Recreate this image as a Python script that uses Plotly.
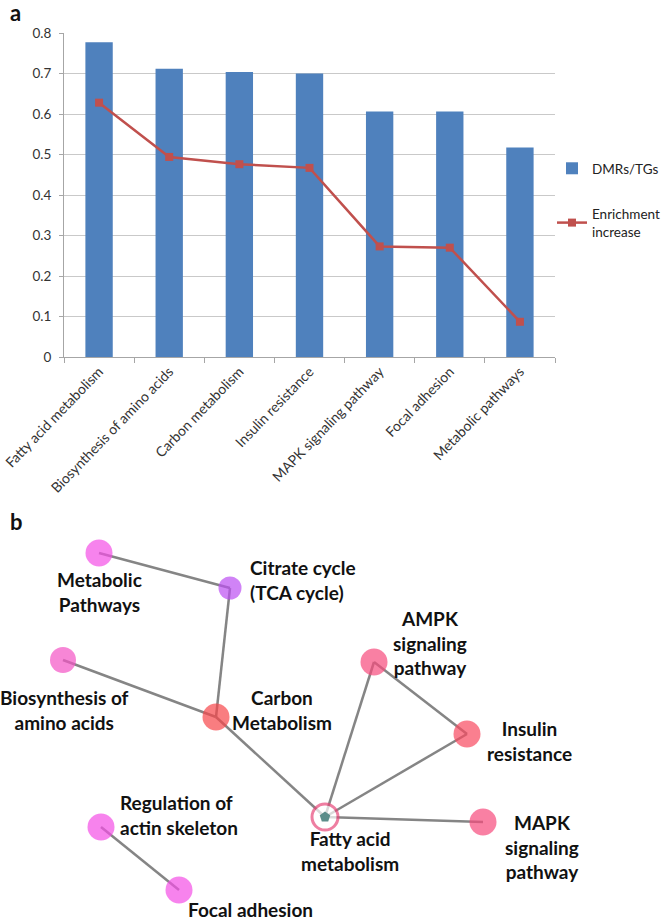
import plotly.graph_objects as go

W, H = 663, 921

# ---------------- Panel a data ----------------
categories = ["Fatty acid metabolism", "Biosynthesis of amino acids", "Carbon metabolism",
              "Insulin resistance", "MAPK signaling pathway", "Focal adhesion", "Metabolic pathways"]
dmrs_tgs = [0.777, 0.712, 0.704, 0.700, 0.606, 0.606, 0.517]
enrichment_increase = [0.628, 0.494, 0.476, 0.467, 0.273, 0.270, 0.087]
y_tick_values = [0, 0.1, 0.2, 0.3, 0.4, 0.5, 0.6, 0.7, 0.8]
y_tick_labels = ["0", "0.1", "0.2", "0.3", "0.4", "0.5", "0.6", "0.7", "0.8"]

# ---------------- Panel b data ----------------
node_names = ["Metabolic<br>Pathways", "Citrate cycle<br>(TCA cycle)", "Biosynthesis of<br>amino acids",
              "Carbon<br>Metabolism", "AMPK<br>signaling<br>pathway", "Insulin<br>resistance",
              "Fatty acid<br>metabolism", "MAPK<br>signaling<br>pathway", "Regulation of<br>actin skeleton",
              "Focal adhesion"]
edges = [(0, 1), (1, 3), (2, 3), (3, 6), (6, 4), (4, 5), (5, 6), (6, 7), (8, 9)]

# layout (pixel positions of the network drawing)
node_x = [99, 230, 63, 216, 374, 467, 325, 483, 101, 179]
node_y = [553, 588, 660, 717, 662, 734, 817, 822, 827, 890]
node_size = [27, 23, 26, 27, 27, 27, 26, 27, 27, 27]
node_color = ["#f44fe6", "#bc4ff2", "#f452c4", "#f7464a", "#f64a7c", "#f8495f",
              "#ffffff", "#f64a7c", "#f44fe6", "#f44fe6"]
label_x = [99, 248, 64, 282, 430, 529, 350, 542, 118, 250]
label_y = [592, 580, 710, 710, 643, 741, 851, 847, 815, 909]
label_anchor = ["center", "left", "center", "center", "center", "center", "center", "center", "left", "center"]

fig = go.Figure()

# bars and line
fig.add_trace(go.Bar(x=categories, y=dmrs_tgs, name="DMRs/TGs",
                     marker=dict(color="#4f81bd", line=dict(width=0)),
                     xaxis="x", yaxis="y", legendgroup="g1"))
fig.add_trace(go.Scatter(x=categories, y=enrichment_increase, name="Enrichment<br>increase",
                         mode="lines+markers",
                         line=dict(color="#c0504d", width=2.5),
                         marker=dict(symbol="square", size=8, color="#c0504d"),
                         xaxis="x", yaxis="y", legendgroup="g2"))

# network edges
ex, ey = [], []
for a, b in edges:
    ex += [node_x[a], node_x[b], None]
    ey += [node_y[a], node_y[b], None]
fig.add_trace(go.Scatter(x=ex, y=ey, mode="lines", line=dict(color="#858585", width=2.5),
                         xaxis="x2", yaxis="y2", showlegend=False, hoverinfo="skip"))

# network nodes
line_w = [3 if c == "#ffffff" else 0 for c in node_color]
fig.add_trace(go.Scatter(x=node_x, y=node_y, mode="markers",
                         marker=dict(size=node_size, color=node_color,
                                     line=dict(color="#e8487a", width=line_w)),
                         xaxis="x2", yaxis="y2", showlegend=False,
                         text=[n.replace("<br>", " ") for n in node_names], hoverinfo="text"))
# centre glyph of the seed node
fig.add_trace(go.Scatter(x=[node_x[6]], y=[node_y[6]], mode="markers",
                         marker=dict(symbol="pentagon", size=11, color="#5c8d8a"),
                         xaxis="x2", yaxis="y2", showlegend=False, hoverinfo="skip"))

annotations = []
for i, name in enumerate(node_names):
    annotations.append(dict(x=label_x[i], y=label_y[i], xref="x2", yref="y2", text="<b>" + name + "</b>",
                            showarrow=False, xanchor=label_anchor[i], yanchor="middle",
                            align=label_anchor[i],
                            font=dict(family="Lato", size=19, color="#111111")))

annotations.append(dict(x=8 / W, y=1 - 12 / H, xref="paper", yref="paper", text="<b>a</b>",
                        showarrow=False, xanchor="left", yanchor="middle",
                        font=dict(family="Lato", size=22, color="#111111")))
annotations.append(dict(x=8 / W, y=1 - 521 / H, xref="paper", yref="paper", text="<b>b</b>",
                        showarrow=False, xanchor="left", yanchor="middle",
                        font=dict(family="Lato", size=22, color="#111111")))

net_dom_top = 0.46
fig.update_layout(
    width=W, height=H,
    margin=dict(l=0, r=0, t=0, b=0, autoexpand=False),
    paper_bgcolor="white", plot_bgcolor="rgba(0,0,0,0)",
    font=dict(family="Lato", size=13, color="#404040"),
    bargap=0.61,
    showlegend=True,
    legend=dict(x=552 / W, xanchor="left", y=1 - 153 / H, yanchor="top",
                font=dict(family="Lato", size=13.5, color="#222222"),
                tracegroupgap=25, itemwidth=30, bgcolor="rgba(0,0,0,0)"),
    xaxis=dict(domain=[64 / W, 555 / W], anchor="y", type="category", automargin=False,
               showline=True, linecolor="#a6a6a6", linewidth=1,
               ticks="outside", tickson="boundaries", ticklen=5, tickcolor="#a6a6a6",
               tickangle=-46, showgrid=False, zeroline=False,
               tickfont=dict(family="Lato", size=14, color="#333333")),
    yaxis=dict(domain=[1 - 357 / H, 1 - 33 / H], anchor="x", range=[0, 0.8], automargin=False,
               tickvals=y_tick_values, ticktext=y_tick_labels, ticklabelstandoff=5,
               showline=True, linecolor="#a6a6a6", linewidth=1,
               ticks="outside", ticklen=4, tickcolor="#a6a6a6",
               showgrid=True, gridcolor="#c9c9c9", gridwidth=1, zeroline=False,
               tickfont=dict(family="Lato", size=13.5, color="#333333")),
    xaxis2=dict(domain=[0, 1], anchor="y2", range=[0, W], visible=False),
    yaxis2=dict(domain=[0, net_dom_top], anchor="x2", range=[H, H * (1 - net_dom_top)], visible=False),
    annotations=annotations,
)

fig.write_html("out.html", config={"displayModeBar": False},
               post_script="document.body.style.margin='0';document.body.style.overflow='hidden';")
